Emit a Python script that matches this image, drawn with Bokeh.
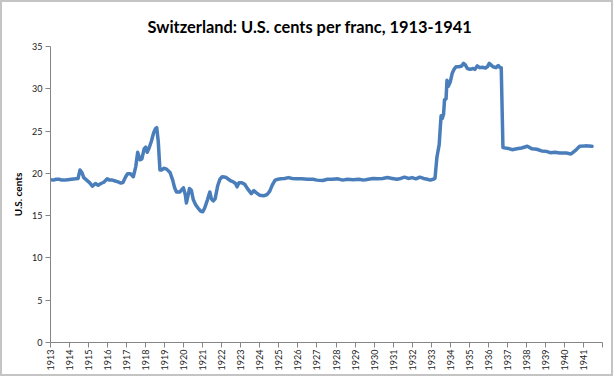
from bokeh.plotting import figure
from bokeh.models import ColumnDataSource, FixedTicker, Range1d
from bokeh.embed import file_html
from bokeh.resources import INLINE
import math

# Monthly-ish readings of the exchange rate (U.S. cents per Swiss franc)
years = [
    1913.00, 1913.15, 1913.30, 1913.45, 1913.60, 1913.75, 1913.90,
    1914.10, 1914.30, 1914.45, 1914.55, 1914.65, 1914.75, 1914.90,
    1915.05, 1915.20, 1915.36, 1915.50, 1915.65, 1915.80, 1915.98,
    1916.10, 1916.25, 1916.40, 1916.55, 1916.70, 1916.80, 1916.95,
    1917.05, 1917.20, 1917.35, 1917.48, 1917.58, 1917.70, 1917.80, 1917.92,
    1918.00, 1918.08, 1918.18, 1918.30, 1918.42, 1918.52, 1918.58, 1918.66,
    1918.75, 1918.85, 1918.95, 1919.10, 1919.28, 1919.42, 1919.52, 1919.62,
    1919.80, 1919.98, 1920.08, 1920.14, 1920.22, 1920.30, 1920.40, 1920.50,
    1920.62, 1920.75, 1920.90, 1921.00, 1921.10, 1921.25, 1921.37, 1921.45,
    1921.55, 1921.65, 1921.78, 1921.90, 1922.02, 1922.20, 1922.35, 1922.48,
    1922.60, 1922.72, 1922.80, 1922.90, 1923.05, 1923.20, 1923.38, 1923.55,
    1923.68, 1923.82, 1924.00, 1924.20, 1924.38, 1924.52, 1924.65, 1924.80,
    1924.95, 1925.10, 1925.30, 1925.50, 1925.70, 1925.90, 1926.20, 1926.50,
    1926.80, 1927.00, 1927.30, 1927.55, 1927.80, 1928.10, 1928.35, 1928.60,
    1928.90, 1929.20, 1929.45, 1929.70, 1929.95, 1930.20, 1930.45, 1930.70,
    1930.95, 1931.20, 1931.40, 1931.60, 1931.80, 1932.00, 1932.20, 1932.40,
    1932.60, 1932.80, 1932.95, 1933.10, 1933.20, 1933.30, 1933.42, 1933.48,
    1933.52, 1933.58, 1933.65, 1933.70, 1933.78, 1933.83, 1933.90, 1934.00,
    1934.10, 1934.20, 1934.30, 1934.45, 1934.60, 1934.70, 1934.80, 1934.90,
    1935.05, 1935.20, 1935.30, 1935.42, 1935.55, 1935.70, 1935.85, 1935.95,
    1936.05, 1936.15, 1936.25, 1936.40, 1936.52, 1936.62, 1936.68, 1936.77,
    1936.90, 1937.05, 1937.25, 1937.50, 1937.75, 1938.05, 1938.30, 1938.55,
    1938.80, 1939.05, 1939.25, 1939.50, 1939.75, 1940.10, 1940.35, 1940.55,
    1940.80, 1941.10, 1941.45,
]
cents = [
    19.25, 19.20, 19.30, 19.30, 19.20, 19.20, 19.25,
    19.30, 19.35, 19.40, 20.40, 20.10, 19.50, 19.20,
    18.90, 18.50, 18.80, 18.60, 18.80, 18.95, 19.35,
    19.20, 19.20, 19.10, 19.00, 18.85, 18.90, 19.60,
    19.95, 19.95, 19.60, 20.80, 22.50, 21.60, 21.70, 22.90,
    23.10, 22.50, 23.00, 23.80, 24.80, 25.30, 25.40, 23.80,
    20.40, 20.40, 20.60, 20.50, 20.10, 19.20, 18.30, 17.80,
    17.80, 18.30, 17.50, 16.50, 17.30, 18.20, 18.00, 16.90,
    16.30, 15.90, 15.50, 15.45, 15.90, 16.90, 17.80, 17.00,
    16.75, 17.00, 18.50, 19.30, 19.60, 19.55, 19.30, 19.10,
    19.00, 18.80, 18.40, 18.90, 18.90, 18.70, 18.10, 17.60,
    17.95, 17.70, 17.40, 17.35, 17.50, 17.90, 18.60, 19.20,
    19.30, 19.35, 19.40, 19.50, 19.40, 19.35, 19.35, 19.30,
    19.30, 19.20, 19.15, 19.30, 19.30, 19.35, 19.20, 19.30,
    19.25, 19.30, 19.20, 19.30, 19.40, 19.35, 19.40, 19.50,
    19.40, 19.30, 19.40, 19.55, 19.40, 19.50, 19.35, 19.55,
    19.40, 19.30, 19.20, 19.30, 19.40, 21.90, 23.40, 25.50,
    26.80, 26.50, 27.00, 28.70, 28.80, 31.00, 30.30, 30.80,
    31.80, 32.30, 32.60, 32.60, 32.70, 33.00, 32.80, 32.40,
    32.30, 32.40, 32.30, 32.70, 32.50, 32.55, 32.45, 32.60,
    33.00, 32.80, 32.60, 32.50, 32.75, 32.50, 32.50, 23.05,
    23.00, 22.95, 22.80, 22.90, 23.00, 23.20, 22.90, 22.85,
    22.65, 22.60, 22.45, 22.50, 22.40, 22.40, 22.30, 22.65,
    23.20, 23.25, 23.20,
]
year_ticks = list(range(1913, 1943))
year_labels = [str(y) for y in range(1913, 1942)] + [""]
y_ticks = [0, 5, 10, 15, 20, 25, 30, 35]

source = ColumnDataSource(data=dict(x=years, y=cents))

p = figure(width=613, height=376, output_backend="svg", toolbar_location=None,
           x_range=Range1d(1913, 1942), y_range=Range1d(0, 35),
           min_border_left=50, min_border_right=11, min_border_top=46,
           min_border_bottom=34)

# transparent canvas so the host's inset border (chart-area frame) shows
p.border_fill_color = None
p.background_fill_color = None
p.styles = {"background-color": "white",
            "box-shadow": "inset 0 0 0 2px #c4c4c4"}

p.title.text = "Switzerland: U.S. cents per franc, 1913-1941"
p.title.align = "left"
p.title.offset = 97
p.title.text_font = "Lato"
p.title.text_font_size = "16.4px"
p.title.text_font_style = "bold"
p.title.text_color = "#000000"
p.title.standoff = 21

p.line("x", "y", source=source, line_color="#4a7ebb", line_width=3.5,
       line_join="round", line_cap="round")

p.xgrid.visible = False
p.ygrid.visible = False
p.outline_line_color = None

for ax in (p.xaxis[0], p.yaxis[0]):
    ax.axis_line_color = "#868686"
    ax.major_tick_line_color = "#868686"
    ax.major_tick_in = 0
    ax.major_tick_out = 5
    ax.minor_tick_line_color = None
    ax.major_label_text_font = "Lato"
    ax.major_label_text_font_size = "9px"
    ax.major_label_text_color = "#222222"

p.xaxis.ticker = FixedTicker(ticks=year_ticks)
p.xaxis.major_label_overrides = {t: l for t, l in zip(year_ticks, year_labels)}
p.xaxis.major_label_orientation = math.pi / 2
p.xaxis.major_label_standoff = 2

p.yaxis.ticker = FixedTicker(ticks=y_ticks)
p.yaxis.major_label_standoff = 3
p.yaxis.axis_label = "U.S. cents"
p.yaxis.axis_label_text_font = "Lato"
p.yaxis.axis_label_text_font_size = "10px"
p.yaxis.axis_label_text_font_style = "bold"
p.yaxis.axis_label_text_color = "#000000"
p.yaxis.axis_label_standoff = 5

open("out.html", "w").write(file_html(p, INLINE))
